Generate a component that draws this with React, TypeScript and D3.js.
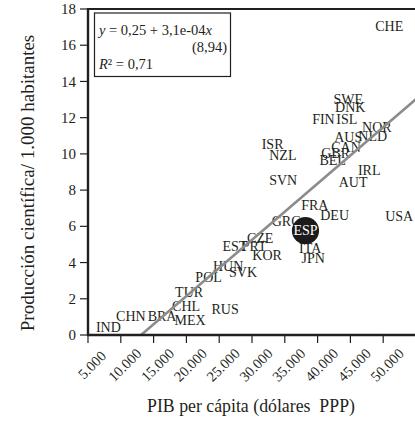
import React from "react";
import * as d3 from "d3";

const countries = ["IND","CHN","BRA","MEX","CHL","TUR","RUS","POL","HUN","EST","SVK","CZE","PRT","KOR","GRC","FRA","DEU","USA","ITA","JPN","AUT","SVN","CHE","SWE","DNK","FIN","ISL","NOR","NLD","AUS","CAN","GBR","BEL","ISR","NZL","IRL"];
const gdp = [8100,11530,16290,20560,19950,20410,25900,23380,26360,27400,28640,31240,30320,32300,35200,39580,42600,52440,38870,39320,45420,34750,50920,44660,44970,40890,44460,49040,48400,44660,44330,42750,42300,33140,34700,47860];
const prod = [0.44,1.02,1.05,0.80,1.60,2.37,1.44,3.20,3.77,4.91,3.48,5.36,4.88,4.38,6.29,7.14,6.63,6.57,4.79,4.25,8.45,8.56,17.06,13.03,12.56,11.93,11.93,11.46,10.99,10.91,10.38,10.01,9.66,10.51,9.94,9.11];
const highlight = { name: "ESP", gdp: 38150, prod: 5.76 };
const fitX = [13085, 56000];
const fitY = [0, 13.33];
const xTicks = [5000,10000,15000,20000,25000,30000,35000,40000,45000,50000];
const yTicks = [0,2,4,6,8,10,12,14,16,18];
const xTitle = "PIB per cápita (dólares\u00A0 PPP)";
const yTitle = "Producción científica/ 1.000 habitantes";
const eqLine1 = ["y", " = 0,25 + 3,1e-04", "x"];
const eqLine2 = "(8,94)";
const eqLine3 = ["R", "² = 0,71"];

const W = 415, H = 424;
const left = 88, top = 9, bottom = 335;
const FONT = "'Liberation Serif', 'Times New Roman', serif";
const INK = "#231f20";

export default function App() {
  const x = d3.scaleLinear().domain([5000, 55000]).range([left, left + 328]);
  const y = d3.scaleLinear().domain([0, 18]).range([bottom, top]);
  const fmt = (v: number) => d3.format(",")(v).replace(/,/g, ".");
  const line = d3.line<[number, number]>().x(d => x(d[0])).y(d => y(d[1]));
  const fitPts: [number, number][] = fitX.map((v, i) => [v, fitY[i]]);

  return (
    <svg width={W} height={H} style={{ position: "absolute", left: 0, top: 0, background: "#fff" }} fontFamily={FONT}>
      <defs>
        <clipPath id="plot"><rect x={left} y={top} width={W - left} height={bottom - top} /></clipPath>
      </defs>
      {countries.map((c, i) => (
        <text key={c} x={x(gdp[i])} y={y(prod[i])} dy="0.34em" textAnchor="middle" fontSize={14} fill={INK}>{c}</text>
      ))}
      <path d={line(fitPts) || ""} stroke="#8c8c8c" strokeWidth={2.6} fill="none" clipPath="url(#plot)" />
      <circle cx={x(highlight.gdp)} cy={y(highlight.prod)} r={13.6} fill="#1c1a1b" />
      <text x={x(highlight.gdp)} y={y(highlight.prod)} dy="0.34em" textAnchor="middle" fontSize={14} fill="#fff">{highlight.name}</text>
      <line x1={left} x2={W} y1={top} y2={top} stroke={INK} strokeWidth={2} />
      <line x1={left} x2={left} y1={top - 1} y2={bottom + 1} stroke={INK} strokeWidth={2.4} />
      <line x1={left - 1} x2={W} y1={bottom} y2={bottom} stroke={INK} strokeWidth={2.4} />
      {yTicks.map(t => (
        <g key={t}>
          <line x1={left - 8} x2={left} y1={y(t)} y2={y(t)} stroke={INK} strokeWidth={1.2} />
          <text x={left - 12} y={y(t)} dy="0.34em" textAnchor="end" fontSize={15} fill={INK}>{t}</text>
        </g>
      ))}
      {xTicks.map(t => (
        <g key={t}>
          <line x1={x(t)} x2={x(t)} y1={bottom} y2={bottom + 8} stroke={INK} strokeWidth={1.2} />
          <text transform={`translate(${x(t) + 4},${bottom + 30}) rotate(-45)`} dy="0.34em" textAnchor="middle" fontSize={14.5} fill={INK}>{fmt(t)}</text>
        </g>
      ))}
      <text x={251} y={412} textAnchor="middle" fontSize={17.8} fill={INK}>{xTitle}</text>
      <text transform={`translate(34,183) rotate(-90)`} textAnchor="middle" fontSize={19} fill={INK}>{yTitle}</text>
      <rect x={94.5} y={13} width={136} height={63.5} fill="#fff" stroke={INK} strokeWidth={1.2} />
      <text x={99} y={35} fontSize={14.5} fill={INK}>
        <tspan fontStyle="italic">{eqLine1[0]}</tspan>{eqLine1[1]}<tspan fontStyle="italic">{eqLine1[2]}</tspan>
      </text>
      <text x={227} y={52} textAnchor="end" fontSize={14.5} fill={INK}>{eqLine2}</text>
      <text x={99} y={69} fontSize={14.5} fill={INK}>
        <tspan fontStyle="italic">{eqLine3[0]}</tspan>{eqLine3[1]}
      </text>
    </svg>
  );
}
